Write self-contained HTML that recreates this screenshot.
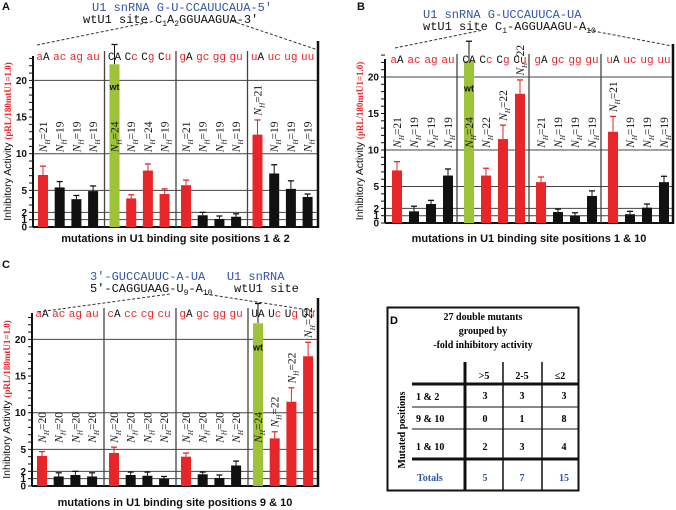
<!DOCTYPE html>
<html><head><meta charset="utf-8">
<style>
body{margin:0;background:#fff;}
svg{display:block;font-family:"Liberation Sans",sans-serif;}
.mono{font-family:"Liberation Mono",monospace;white-space:pre;}
.serif{font-family:"Liberation Serif",serif;}
</style></head>
<body>
<svg id="fig" width="676" height="510" viewBox="0 0 676 510">
<g class="serif" font-weight="bold">
<rect x="387.5" y="307.5" width="191" height="183" fill="none" stroke="#111" stroke-width="2"/>
<text x="390" y="324" font-family="Liberation Sans" font-size="11">D</text>
<text x="483" y="320" font-size="10" text-anchor="middle">27 double mutants</text>
<text x="483" y="334" font-size="10" text-anchor="middle">grouped by</text>
<text x="483" y="348" font-size="10" text-anchor="middle">-fold inhibitory activity</text>
<line x1="465" y1="362" x2="465" y2="491" stroke="#111" stroke-width="3"/>
<line x1="503" y1="362" x2="503" y2="491" stroke="#111" stroke-width="1.5"/>
<line x1="542" y1="362" x2="542" y2="491" stroke="#111" stroke-width="1.5"/>
<line x1="412" y1="384" x2="579" y2="384" stroke="#111" stroke-width="3"/>
<line x1="412" y1="407" x2="579" y2="407" stroke="#111" stroke-width="1"/>
<line x1="412" y1="429" x2="579" y2="429" stroke="#111" stroke-width="1"/>
<line x1="412" y1="459" x2="579" y2="459" stroke="#111" stroke-width="3"/>
<text x="484" y="379" font-size="10" text-anchor="middle">&gt;5</text>
<text x="522" y="379" font-size="10" text-anchor="middle">2-5</text>
<text x="560" y="379" font-size="10" text-anchor="middle">≤2</text>
<text transform="translate(405,430) rotate(-90)" font-size="10" text-anchor="middle">Mutated positions</text>
<text x="416" y="400" font-size="10">1 &amp; 2</text>
<text x="416" y="422" font-size="10">9 &amp; 10</text>
<text x="416" y="450" font-size="10">1 &amp; 10</text>
<text x="417" y="481" font-size="10" fill="#3355a5">Totals</text>
<g font-size="10" text-anchor="middle">
<text x="485" y="399">3</text><text x="522" y="399">3</text><text x="564" y="399">3</text>
<text x="485" y="422">0</text><text x="522" y="422">1</text><text x="564" y="422">8</text>
<text x="485" y="450">2</text><text x="522" y="450">3</text><text x="564" y="450">4</text>
<text x="485" y="481" fill="#3355a5">5</text><text x="522" y="481" fill="#3355a5">7</text><text x="564" y="481" fill="#3355a5">15</text>
</g>
</g>
</svg>
<script>
// Panel A data
const catsA=["aA","ac","ag","au","CA","Cc","Cg","Cu","gA","gc","gg","gu","uA","uc","ug","uu"];
const valsA=[7.1,5.4,3.8,4.9,22.2,3.9,7.7,4.5,5.7,1.6,1.1,1.4,12.6,7.3,5.2,4.1];
const errsA=[8.3,6.2,4.3,5.6,24.9,4.4,8.6,5.2,6.4,2.0,1.5,1.8,14.6,8.5,6.3,4.5];
const nA=[21,19,19,19,24,19,24,19,21,19,19,19,21,19,19,19];
// Panel B data
const catsB=["aA","ac","ag","au","CA","Cc","Cg","Cu","gA","gc","gg","gu","uA","uc","ug","uu"];
const valsB=[7.2,1.6,2.6,6.5,22.2,6.5,11.5,17.7,5.6,1.5,1.0,3.7,12.5,1.2,2.1,5.6];
const errsB=[8.4,2.3,3.1,7.4,24.9,7.5,13.4,19.6,6.3,1.9,1.4,4.4,14.6,1.6,2.6,6.4];
const nB=[21,19,19,19,24,22,22,22,21,19,19,19,21,19,19,19];
// Panel C data
const catsC=["aA","ac","ag","au","cA","cc","cg","cu","gA","gc","gg","gu","UA","Uc","Ug","Uu"];
const valsC=[4.1,1.3,1.5,1.3,4.5,1.5,1.4,1.0,4.0,1.6,1.1,2.8,22.2,6.5,11.5,17.7];
const errsC=[4.7,1.8,2.0,1.8,5.3,1.9,1.9,1.3,4.5,1.9,1.5,3.4,24.9,7.4,13.4,19.6];
const nC=[20,20,20,20,20,20,20,20,20,20,20,20,24,22,22,22];
const colsA=["r","k","k","k","g","r","r","r","r","k","k","k","r","k","k","k"];
const colsB=["r","k","k","k","g","r","r","r","r","k","k","k","r","k","k","k"];
const colsC=["r","k","k","k","r","k","k","k","r","k","k","k","g","r","r","r"];
const yTickLabels=[0,1,2,5,10,15,20];
const gridVals=[0,1,2,5,10,20];

const NS="http://www.w3.org/2000/svg";
const svg=document.getElementById('fig');
function mk(tag,attrs,parent){const e=document.createElementNS(NS,tag);for(const k in attrs)e.setAttribute(k,attrs[k]);(parent||svg).appendChild(e);return e;}
const COL={r:"#e8262a",k:"#111111",g:"#9ec33a"};
const upperRe=/[A-Z]/;

function panel(p){
  const g=mk('g',{});
  
  
  const y=v=>p.y0-v*p.ppu;
  const top=p.top;
  gridVals.forEach(v=>{
    const l=mk('line',{x1:p.ax,x2:p.right,y1:y(v),y2:y(v),stroke:v===0?"#111":"#444","stroke-width":v===0?2:1},g);
    
    
  });
  for(let v=0;v<=23;v++){mk('line',{x1:p.ax-4,x2:p.ax,y1:y(v),y2:y(v),stroke:"#111","stroke-width":1},g);}
  yTickLabels.forEach(v=>{
    const t=mk('text',{x:p.ax-6,y:y(v)+3.5,"font-size":10,"font-weight":"bold","text-anchor":"end",fill:"#111"},g);
    t.textContent=v;
    
    
  });
  mk('line',{x1:p.ax,x2:p.ax,y1:top,y2:p.y0,stroke:"#111","stroke-width":2},g);
  mk('line',{x1:p.right,x2:p.right,y1:top-15,y2:p.y0+1,stroke:"#111","stroke-width":2.5},g);
  for(let k=1;k<4;k++){
    const x=p.ax+k*p.gw;
    mk('line',{x1:x,x2:x,y1:top-5,y2:p.y0,stroke:"#444","stroke-width":1.3},g);
  }
  p.cats.forEach((c,i)=>{
    const gi=Math.floor(i/4), ii=i%4;
    const cx=p.ax+gi*p.gw+p.off+ii*p.sp;
    const col=COL[p.cols[i]];
    const ecol=p.cols[i]==="r"?"#e8262a":"#111";
    mk('line',{x1:cx,x2:cx,y1:y(p.vals[i]),y2:y(p.errs[i]),stroke:ecol,"stroke-width":1},g);
    mk('line',{x1:cx-3,x2:cx+3,y1:y(p.errs[i]),y2:y(p.errs[i]),stroke:ecol,"stroke-width":1.3},g);
    const r=mk('rect',{x:cx-5,y:y(p.vals[i]),width:10,height:y(0)-y(p.vals[i]),fill:col},g);
    
    
    const t=mk('text',{x:cx,y:top+4,"font-size":11,"text-anchor":"middle",class:"mono"},g);
    
    
    const isWt=p.cols[i]==="g";
    for(const ch of c){const s=mk('tspan',{fill:(isWt||upperRe.test(ch))?"#111":"#e8262a"},t);s.textContent=ch;}
    let base=isWt?p.nBase:Math.max(p.nBase,p.errs[i]+0.6);
    const by=y(base);
    const nt=mk('text',{transform:`translate(${cx+4},${by}) rotate(-90)`,"font-size":11.5,class:"serif",fill:"#111"},g);
    
    
    const a=mk('tspan',{"font-style":"italic"},nt);a.textContent="N";
    const b=mk('tspan',{"font-size":7,dy:3,"font-style":"italic"},nt);b.textContent="H";
    const d=mk('tspan',{dy:-3},nt);d.textContent="="+p.ns[i];
    if(isWt){const w=mk('text',{x:cx,y:y(p.wtY),"font-size":9,"font-weight":"bold","text-anchor":"middle",fill:"#111"},g);w.textContent="wt";
      }
  });
  const yt=mk('text',{transform:`translate(${p.ax-22},${(top+p.y0)/2}) rotate(-90)`,"font-size":10.5,"text-anchor":"middle",fill:"#111"},g);
  
  
  const y1=mk('tspan',{},yt);y1.textContent="Inhibitory Activity ";
  const y2=mk('tspan',{fill:"#e8262a","font-size":9,class:"serif","font-weight":"bold"},yt);y2.textContent="(pRL/180mtU1=1.0)";
  const xt=mk('text',{x:(p.ax+p.right)/2,y:p.xtY,"font-size":11,"font-weight":"bold","text-anchor":"middle",fill:"#111"},g);
  xt.textContent=p.xtitle;
  
  
  const pl=mk('text',{x:p.lx,y:p.ly,"font-size":11,"font-weight":"bold",fill:"#111"},g);
  pl.textContent=p.letter;
  
  
  p.dash.forEach(d=>mk('line',{x1:d[0],y1:d[1],x2:d[2],y2:d[3],stroke:"#333","stroke-width":1,"stroke-dasharray":"3,2"},g));
  p.head.forEach(h=>{
    const t=mk('text',{x:h.x,y:h.y,"font-size":12,class:"mono",fill:h.c},g);
    
    
    h.parts.forEach(pt=>{const s=mk('tspan',pt.sub?{"font-size":8,dy:3}:(pt.up?{dy:-3}:{}),t);s.textContent=pt.t;});
  });
}
panel({name:"panel-a-chart",letter:"A",lx:2,ly:10,ax:33,right:318,y0:227,ppu:7.33,top:56,gw:71.5,off:10,sp:16.7,
  cats:catsA,vals:valsA,errs:errsA,ns:nA,cols:colsA,nBase:10.2,wtY:18.7,xtitle:"mutations in U1 binding site positions 1 & 2",xtY:242,
  dash:[[37,45,155,21],[232,21,318,50]],
  head:[{x:92,y:11,c:"#3355a5",n:"u1-snrna-sequence",parts:[{t:"U1 snRNA G-U-CCAUUCAUA-5′"}]},
        {x:83,y:23,c:"#111",n:"wt-site-sequence",parts:[{t:"wtU1 site C"},{t:"1",sub:1},{t:"A",up:1},{t:"2",sub:1},{t:"GGUAAGUA-3′",up:1}]}]});
panel({name:"panel-b-chart",letter:"B",lx:357,ly:10,ax:385,right:673,y0:223,ppu:7.3,top:59,gw:72,off:12,sp:17,
  cats:catsB,vals:valsB,errs:errsB,ns:nB,cols:colsB,nBase:10.3,wtY:18,xtitle:"mutations in U1 binding site positions 1 & 10",xtY:242,
  dash:[[395,48,483,30],[588,30,672,46]],
  head:[{x:423,y:18,c:"#3355a5",n:"u1-snrna-sequence-b",parts:[{t:"U1 snRNA G-UCCAUUCA-UA"}]},
        {x:423,y:30,c:"#111",n:"wt-site-sequence-b",parts:[{t:"wtU1 site C"},{t:"1",sub:1},{t:"-AGGUAAGU-A",up:1},{t:"10",sub:1}]}]});
panel({name:"panel-c-chart",letter:"C",lx:2,ly:268,ax:32,right:318,y0:486,ppu:7.33,top:313,gw:72,off:10,sp:16.7,
  cats:catsC,vals:valsC,errs:errsC,ns:nC,cols:colsC,nBase:5.9,wtY:18.5,xtitle:"mutations in U1 binding site positions 9 & 10",xtY:506,
  dash:[[38,312,170,294],[205,294,315,311]],
  head:[{x:90,y:280,c:"#3355a5",n:"u1-snrna-sequence-c",parts:[{t:"3′-GUCCAUUC-A-UA   U1 snRNA"}]},
        {x:90,y:292,c:"#111",n:"wt-site-sequence-c",parts:[{t:"5′-CAGGUAAG-U"},{t:"9",sub:1},{t:"-A",up:1},{t:"10",sub:1},{t:"   wtU1 site",up:1}]}]});
</script>
</body></html>
